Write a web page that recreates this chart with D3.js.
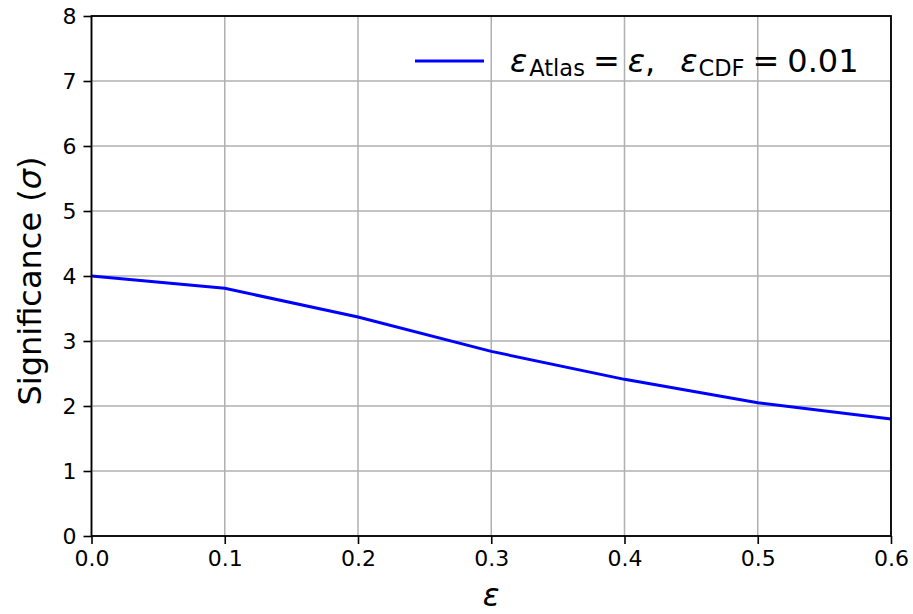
<!DOCTYPE html>
<html>
<head>
<script src="https://d3js.org/d3.v7.min.js"></script>
<style>
  body { margin: 0; background: #fff; font-family: "DejaVu Sans", sans-serif; }
</style>
</head>
<body>
<svg id="chart" width="913" height="614"></svg>
<script>
var epsValues = [0.0, 0.1, 0.2, 0.3, 0.4, 0.5, 0.6];
var significance = [4.0, 3.81, 3.37, 2.84, 2.41, 2.05, 1.80];
var xTicks = [0.0, 0.1, 0.2, 0.3, 0.4, 0.5, 0.6];
var yTicks = [0, 1, 2, 3, 4, 5, 6, 7, 8];

var margin = {left: 91.5, right: 22, top: 16, bottom: 78};
var width = 913, height = 614;

var svg = d3.select("#chart");

var x = d3.scaleLinear().domain([0, 0.6]).range([margin.left, width - margin.right]);
var y = d3.scaleLinear().domain([0, 8]).range([height - margin.bottom, margin.top]);

// grid
var grid = svg.append("g");
grid.selectAll(".gx").data(xTicks).enter().append("line")
  .attr("x1", function(d) { return x(d); }).attr("x2", function(d) { return x(d); })
  .attr("y1", y(0)).attr("y2", y(8))
  .attr("stroke", "#b0b0b0").attr("stroke-width", 1.5);
grid.selectAll(".gy").data(yTicks).enter().append("line")
  .attr("y1", function(d) { return y(d); }).attr("y2", function(d) { return y(d); })
  .attr("x1", x(0)).attr("x2", x(0.6))
  .attr("stroke", "#b0b0b0").attr("stroke-width", 1.5);

// line
var line = d3.line()
  .x(function(d, i) { return x(epsValues[i]); })
  .y(function(d) { return y(d); });
svg.append("path").datum(significance)
  .attr("d", line)
  .attr("fill", "none").attr("stroke", "#0000ff").attr("stroke-width", 3);

// axes
var xAxis = svg.append("g").attr("transform", "translate(0," + y(0) + ")")
  .call(d3.axisBottom(x).tickValues(xTicks).tickFormat(d3.format(".1f")).tickSize(8).tickPadding(6));
var yAxis = svg.append("g").attr("transform", "translate(" + x(0) + ",0)")
  .call(d3.axisLeft(y).tickValues(yTicks).tickFormat(d3.format("d")).tickSize(8).tickPadding(7));
[xAxis, yAxis].forEach(function(a) {
  a.attr("font-size", null).attr("font-family", null);
  a.selectAll("text").style("font-family", "DejaVu Sans").style("font-size", "22px").attr("fill", "#000");
  a.selectAll("line").attr("stroke", "#000").attr("stroke-width", 1.6);
  a.select(".domain").remove();
});

// frame
svg.append("rect")
  .attr("x", x(0)).attr("y", y(8))
  .attr("width", x(0.6) - x(0)).attr("height", y(0) - y(8))
  .attr("fill", "none").attr("stroke", "#000").attr("stroke-width", 1.8);

// axis labels
svg.append("text")
  .attr("x", x(0.3)).attr("y", 606)
  .attr("text-anchor", "middle")
  .style("font-family", "DejaVu Sans").style("font-style", "italic").style("font-size", "31px")
  .text("ε");
svg.append("text")
  .attr("transform", "translate(41," + (y(4) + 5) + ") rotate(-90)")
  .attr("text-anchor", "middle")
  .style("font-family", "DejaVu Sans").style("font-size", "32px")
  .html("Significance (<tspan font-style='italic'>σ</tspan>)");

// legend
var lg = svg.append("g");
lg.append("line").attr("x1", 415).attr("x2", 484).attr("y1", 61).attr("y2", 61)
  .attr("stroke", "#0000ff").attr("stroke-width", 3);
var lt = lg.append("text").attr("x", 510).attr("y", 72)
  .style("font-family", "DejaVu Sans").style("font-size", "32px").attr("fill", "#000");
lt.append("tspan").attr("font-style", "italic").text("ε");
lt.append("tspan").style("font-size", "22.5px").attr("dy", 4).attr("dx", 2).text("Atlas");
lt.append("tspan").attr("dy", -4).attr("dx", 8).text("=");
lt.append("tspan").attr("dx", 8).attr("font-style", "italic").text("ε");
lt.append("tspan").text(",");
lt.append("tspan").attr("dx", 25).attr("font-style", "italic").text("ε");
lt.append("tspan").style("font-size", "22.5px").attr("dy", 4).attr("dx", 1).text("CDF");
lt.append("tspan").attr("dy", -4).attr("dx", 8).text("=");
lt.append("tspan").attr("dx", 8).text("0.01");
</script>
</body>
</html>
